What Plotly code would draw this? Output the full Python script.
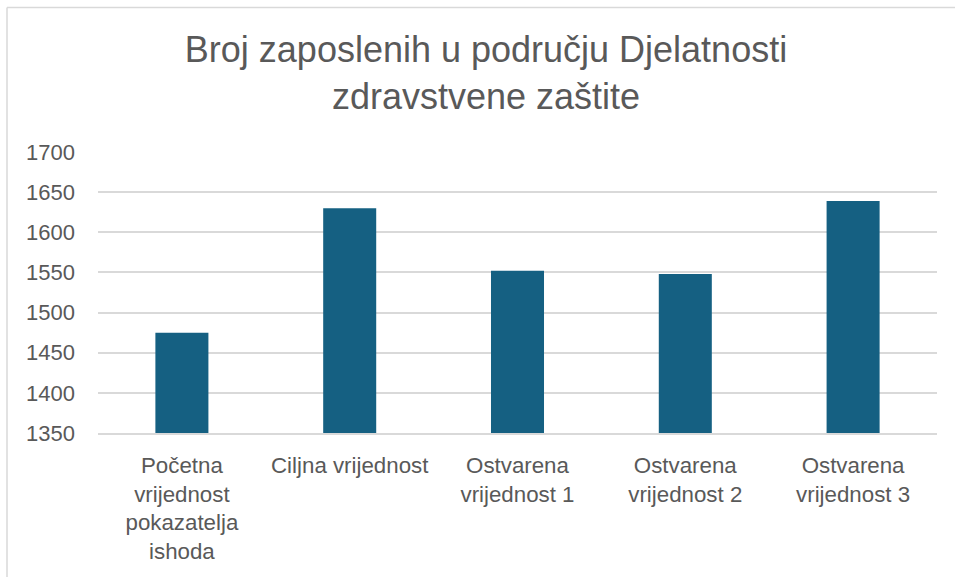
import plotly.graph_objects as go

categories = [
    "Početna<br>vrijednost<br>pokazatelja<br>ishoda",
    "Ciljna vrijednost",
    "Ostvarena<br>vrijednost 1",
    "Ostvarena<br>vrijednost 2",
    "Ostvarena<br>vrijednost 3",
]
values = [1475, 1630, 1552, 1548, 1639]
tick_vals = [1350, 1400, 1450, 1500, 1550, 1600, 1650, 1700]
title_text = "Broj zaposlenih u području Djelatnosti<br>zdravstvene zaštite"

W, H = 955, 577
L, R, T, B = 98, 18, 152, 144
PW, PH = W - L - R, H - T - B

fig = go.Figure(go.Bar(x=categories, y=values, marker=dict(color="#156082", line=dict(width=0))))

font_family = "Liberation Sans, Arial, sans-serif"
fig.update_layout(
    width=W, height=H,
    margin=dict(l=L, r=R, t=T, b=B, autoexpand=False),
    paper_bgcolor="white", plot_bgcolor="white",
    bargap=0.684,
    showlegend=False,
    title=dict(text=title_text, xref="container", yref="container",
               x=486 / W, y=1 - 62 / H, xanchor="center", yanchor="middle",
               font=dict(family=font_family, size=36, color="#595959")),
    font=dict(family=font_family, size=22, color="#595959"),
)
fig.update_yaxes(range=[1350, 1700], tickvals=tick_vals, showgrid=True,
                 gridcolor="#d9d9d9", gridwidth=1.5, zeroline=False,
                 showline=False, ticks="", ticklabelstandoff=22,
                 tickfont=dict(size=22, color="#595959"))
fig.update_xaxes(showline=True, linecolor="#d9d9d9", linewidth=1.5,
                 ticks="", ticklabelstandoff=11, showgrid=False,
                 tickfont=dict(size=22.3, color="#595959"))

# chart border (top and left edges visible)
def px_x(p):
    return (p - L) / PW

def px_y(p):
    return (H - B - p) / PH

fig.add_shape(type="line", xref="paper", yref="paper",
              x0=px_x(7), x1=px_x(W), y0=px_y(7.5), y1=px_y(7.5),
              line=dict(color="#d9d9d9", width=1.5), layer="below")
fig.add_shape(type="line", xref="paper", yref="paper",
              x0=px_x(7), x1=px_x(7), y0=px_y(7.5), y1=px_y(H),
              line=dict(color="#d9d9d9", width=1.5), layer="below")

fig.write_html(
    "out.html",
    config={"displayModeBar": False},
    post_script="document.body.style.margin='0';document.body.style.overflow='hidden';"
                "document.documentElement.style.overflow='hidden';",
)
